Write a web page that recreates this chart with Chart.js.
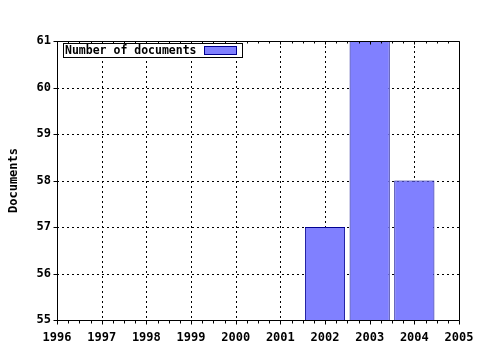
<!DOCTYPE html>
<html>
<head>
<meta charset="utf-8">
<script src="https://cdn.jsdelivr.net/npm/chart.js@4/dist/chart.umd.min.js"></script>
<style>
  html, body { margin: 0; padding: 0; background: #fff; }
  #wrap { width: 480px; height: 350px; }
</style>
</head>
<body>
<div id="wrap"><canvas id="chart" width="480" height="350"></canvas></div>
<script>
  // ── Data ───────────────────────────────────────────────────────────────────
  const years     = [2002, 2003, 2004];
  const documents = [57, 61, 58];
  const seriesLabel = 'Number of documents';
  const yTitle    = 'Documents';
  const xMin = 1996, xMax = 2005;
  const yMin = 55,   yMax = 61;

  const MONO = '"DejaVu Sans Mono", monospace';

  // ── Frame, dotted grid, ticks, legend ──────────────────────────────────────
  const decor = {
    id: 'decor',
    beforeDatasetsDraw(chart) {
      const { ctx, chartArea: a, scales: { x, y } } = chart;
      ctx.save();
      ctx.strokeStyle = '#000';
      ctx.lineWidth = 1;
      ctx.setLineDash([2, 3]);
      ctx.beginPath();
      for (let v = xMin + 1; v < xMax; v++) {
        const px = Math.round(x.getPixelForValue(v)) + 0.5;
        ctx.moveTo(px, a.top); ctx.lineTo(px, a.bottom);
      }
      for (let v = yMin + 1; v < yMax; v++) {
        const py = Math.round(y.getPixelForValue(v)) + 0.5;
        ctx.moveTo(a.left, py); ctx.lineTo(a.right, py);
      }
      ctx.stroke();
      ctx.restore();
    },
    afterDatasetsDraw(chart) {
      const { ctx, chartArea: a, scales: { x, y } } = chart;
      const L = Math.round(a.left) + 0.5, R = Math.round(a.right) + 0.5;
      const T = Math.round(a.top) + 0.5,  B = Math.round(a.bottom) + 0.5;
      ctx.save();
      ctx.strokeStyle = '#000';
      ctx.lineWidth = 1;
      ctx.beginPath();
      ctx.rect(L, T, R - L, B - T);
      // x ticks: majors + 3 minors per year
      for (let v = xMin; v <= xMax + 1e-6; v += 0.25) {
        const px = Math.round(x.getPixelForValue(v)) + 0.5;
        const major = Math.abs(v - Math.round(v)) < 1e-6;
        ctx.moveTo(px, B); ctx.lineTo(px, B + (major ? 4 : 3));
        ctx.moveTo(px, T); ctx.lineTo(px, T + (major ? 3 : 2));
      }
      for (let v = yMin; v <= yMax; v++) {
        const py = Math.round(y.getPixelForValue(v)) + 0.5;
        ctx.moveTo(L - 4, py); ctx.lineTo(L + 1, py);
      }
      ctx.stroke();

      // legend box
      const ds = chart.data.datasets[0];
      const lx = 63.5, ly = 43.5, lw = 179, lh = 14;
      ctx.fillStyle = '#fff';
      ctx.fillRect(lx, ly, lw, lh);
      ctx.strokeRect(lx, ly, lw, lh);
      ctx.fillStyle = '#000';
      ctx.font = 'bold 11.5px ' + MONO;
      ctx.textBaseline = 'middle';
      ctx.fillText(ds.label, lx + 1.5, ly + lh / 2 + 0.5);
      ctx.fillStyle = ds.backgroundColor;
      ctx.fillRect(204.5, 46.5, 32, 8);
      ctx.strokeStyle = ds.borderColor;
      ctx.strokeRect(204.5, 46.5, 32, 8);
      ctx.restore();
    }
  };

  new Chart(document.getElementById('chart'), {
    type: 'bar',
    data: {
      datasets: [{
        label: seriesLabel,
        data: years.map((yr, i) => ({ x: yr, y: documents[i] })),
        backgroundColor: '#8080ff',
        borderColor: '#000090',
        borderWidth: 1,
        base: yMin,
        barPercentage: 0.9,
        categoryPercentage: 1
      }]
    },
    options: {
      responsive: false,
      animation: false,
      events: [],
      layout: { padding: { left: 0, top: 41, right: 21, bottom: 0 } },
      plugins: { legend: { display: false }, tooltip: { enabled: false } },
      scales: {
        x: {
          type: 'linear',
          min: xMin, max: xMax,
          offset: false,
          grid: { display: false, drawTicks: false },
          border: { display: false },
          ticks: {
            stepSize: 1, autoSkip: false, maxRotation: 0,
            color: '#000', font: { family: MONO, size: 12, weight: 'bold' },
            padding: 11,
            callback: v => String(v)
          },
          afterFit: s => { s.height = 30; s.paddingLeft = 0; s.paddingRight = 0; }
        },
        y: {
          min: yMin, max: yMax,
          grid: { display: false, drawTicks: false },
          border: { display: false },
          ticks: {
            stepSize: 1,
            color: '#000', font: { family: MONO, size: 12, weight: 'bold' },
            padding: 6
          },
          title: {
            display: true, text: yTitle, color: '#000',
            font: { family: MONO, size: 12, weight: 'bold' },
            padding: { top: 7, bottom: 0 }
          },
          afterFit: s => { s.width = 57; s.paddingTop = 0; s.paddingBottom = 0; }
        }
      }
    },
    plugins: [decor]
  });
</script>
</body>
</html>
